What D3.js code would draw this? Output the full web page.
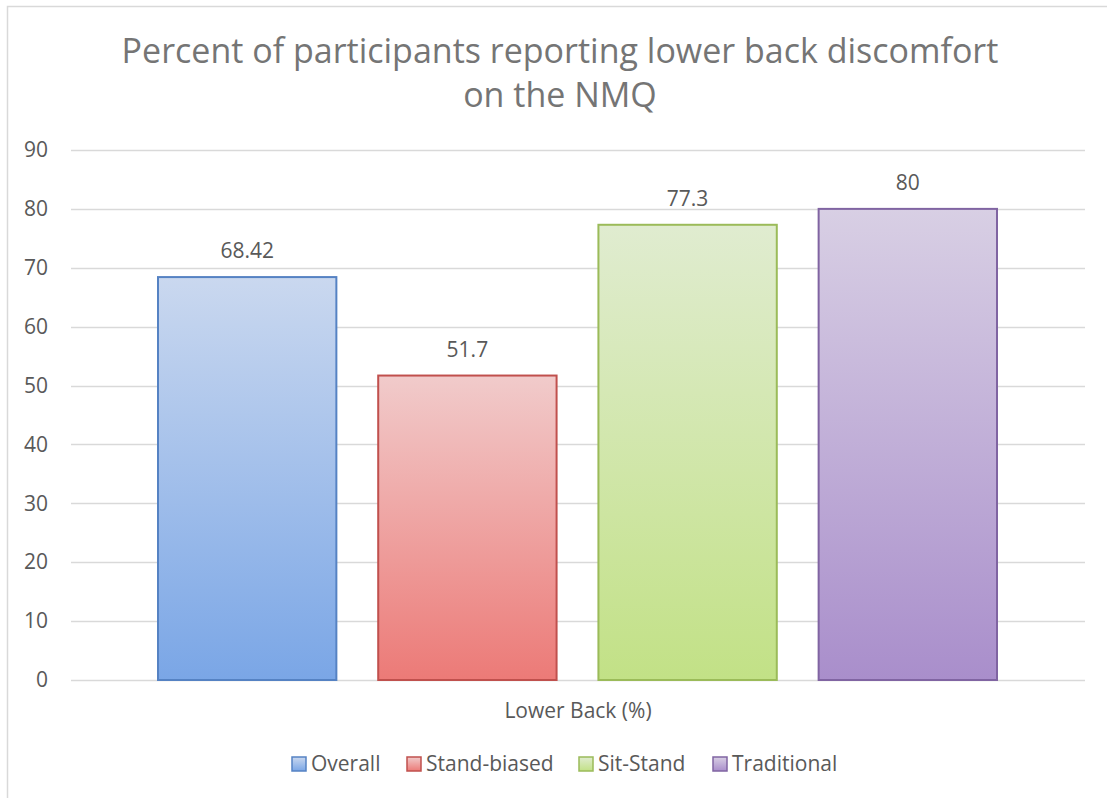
<!DOCTYPE html>
<html>
<head>
<meta charset="utf-8">
<script src="https://cdn.jsdelivr.net/npm/d3@7"></script>
<style>
  html, body { margin: 0; padding: 0; background: #ffffff; }
  svg { display: block; font-family: "Open Sans", "Noto Sans", sans-serif; }
</style>
</head>
<body>
<svg id="chart" width="1107" height="798"></svg>
<script>
// Lower back discomfort reported on the NMQ, by workstation group
const seriesNames = ["Overall", "Stand-biased", "Sit-Stand", "Traditional"];
const seriesValues = [68.42, 51.7, 77.3, 80];
const valueLabels = ["68.42", "51.7", "77.3", "80"];
const categoryLabel = "Lower Back (%)";
const yTicks = [0, 10, 20, 30, 40, 50, 60, 70, 80, 90];
const titleLines = ["Percent of participants reporting lower back discomfort", "on the NMQ"];

const fills = [
  { top: "#cad8ef", bottom: "#7aa6e6", stroke: "#5582c3" },
  { top: "#f1cbcb", bottom: "#ec7a77", stroke: "#c0504d" },
  { top: "#e0ecd0", bottom: "#c2e186", stroke: "#9bbb59" },
  { top: "#d8cfe4", bottom: "#a98ecb", stroke: "#8064a2" }
];

const svg = d3.select("#chart");
const defs = svg.append("defs");
fills.forEach((f, i) => {
  const g = defs.append("linearGradient")
    .attr("id", "grad" + i)
    .attr("x1", 0).attr("y1", 0).attr("x2", 0).attr("y2", 1);
  g.append("stop").attr("offset", "0%").attr("stop-color", f.top);
  g.append("stop").attr("offset", "100%").attr("stop-color", f.bottom);
});

// chart frame
svg.append("rect")
  .attr("x", 7.5).attr("y", 6.5)
  .attr("width", 1120).attr("height", 820)
  .attr("fill", "none").attr("stroke", "#d9d9d9").attr("stroke-width", 1.5);

const plot = { left: 71, right: 1085, top: 150, bottom: 680 };

const y = d3.scaleLinear().domain([0, 90]).range([plot.bottom, plot.top]);
const x = d3.scaleBand()
  .domain(seriesNames)
  .range([plot.left + 87, plot.right - 88])
  .paddingInner(0.19)
  .paddingOuter(0);

// gridlines
svg.append("g")
  .selectAll("line")
  .data(yTicks)
  .join("line")
  .attr("x1", plot.left).attr("x2", plot.right)
  .attr("y1", d => Math.round(y(d)) + 0.5).attr("y2", d => Math.round(y(d)) + 0.5)
  .attr("stroke", "#d9d9d9").attr("stroke-width", 1.3);

// y axis labels
const yAxis = d3.axisLeft(y).tickValues(yTicks).tickSize(0).tickPadding(0);
const yg = svg.append("g").attr("transform", `translate(48,0)`).call(yAxis);
yg.select(".domain").remove();
yg.selectAll("text")
  .attr("fill", "#595959")
  .attr("font-size", 21)
  .attr("font-family", "'Open Sans', sans-serif");

// bars
svg.append("g")
  .selectAll("rect")
  .data(seriesValues)
  .join("rect")
  .attr("x", (d, i) => x(seriesNames[i]))
  .attr("y", d => y(d))
  .attr("width", x.bandwidth())
  .attr("height", d => y(0) - y(d))
  .attr("fill", (d, i) => `url(#grad${i})`)
  .attr("stroke", (d, i) => fills[i].stroke)
  .attr("stroke-width", 2);

// value labels
svg.append("g")
  .selectAll("text")
  .data(seriesValues)
  .join("text")
  .attr("x", (d, i) => x(seriesNames[i]) + x.bandwidth() / 2)
  .attr("y", d => y(d) - 19)
  .attr("text-anchor", "middle")
  .attr("fill", "#595959")
  .attr("font-size", 21)
  .text((d, i) => valueLabels[i]);

// category label
svg.append("text")
  .attr("x", 578)
  .attr("y", 718)
  .attr("text-anchor", "middle")
  .attr("fill", "#595959")
  .attr("font-size", 21)
  .text(categoryLabel);

// title
svg.append("g")
  .selectAll("text")
  .data(titleLines)
  .join("text")
  .attr("x", 560)
  .attr("y", (d, i) => 63 + i * 44)
  .attr("text-anchor", "middle")
  .attr("fill", "#757575")
  .attr("font-size", 34)
  .text(d => d);

// legend
const legendItems = [
  { x: 292, textX: 311 },
  { x: 407, textX: 426 },
  { x: 579, textX: 598 },
  { x: 713, textX: 732 }
];
const lg = svg.append("g");
seriesNames.forEach((name, i) => {
  lg.append("rect")
    .attr("x", legendItems[i].x).attr("y", 757)
    .attr("width", 14).attr("height", 14)
    .attr("fill", `url(#grad${i})`)
    .attr("stroke", fills[i].stroke).attr("stroke-width", 1.5);
  lg.append("text")
    .attr("x", legendItems[i].textX).attr("y", 771)
    .attr("fill", "#595959")
    .attr("font-size", 21)
    .text(name);
});
</script>
</body>
</html>
